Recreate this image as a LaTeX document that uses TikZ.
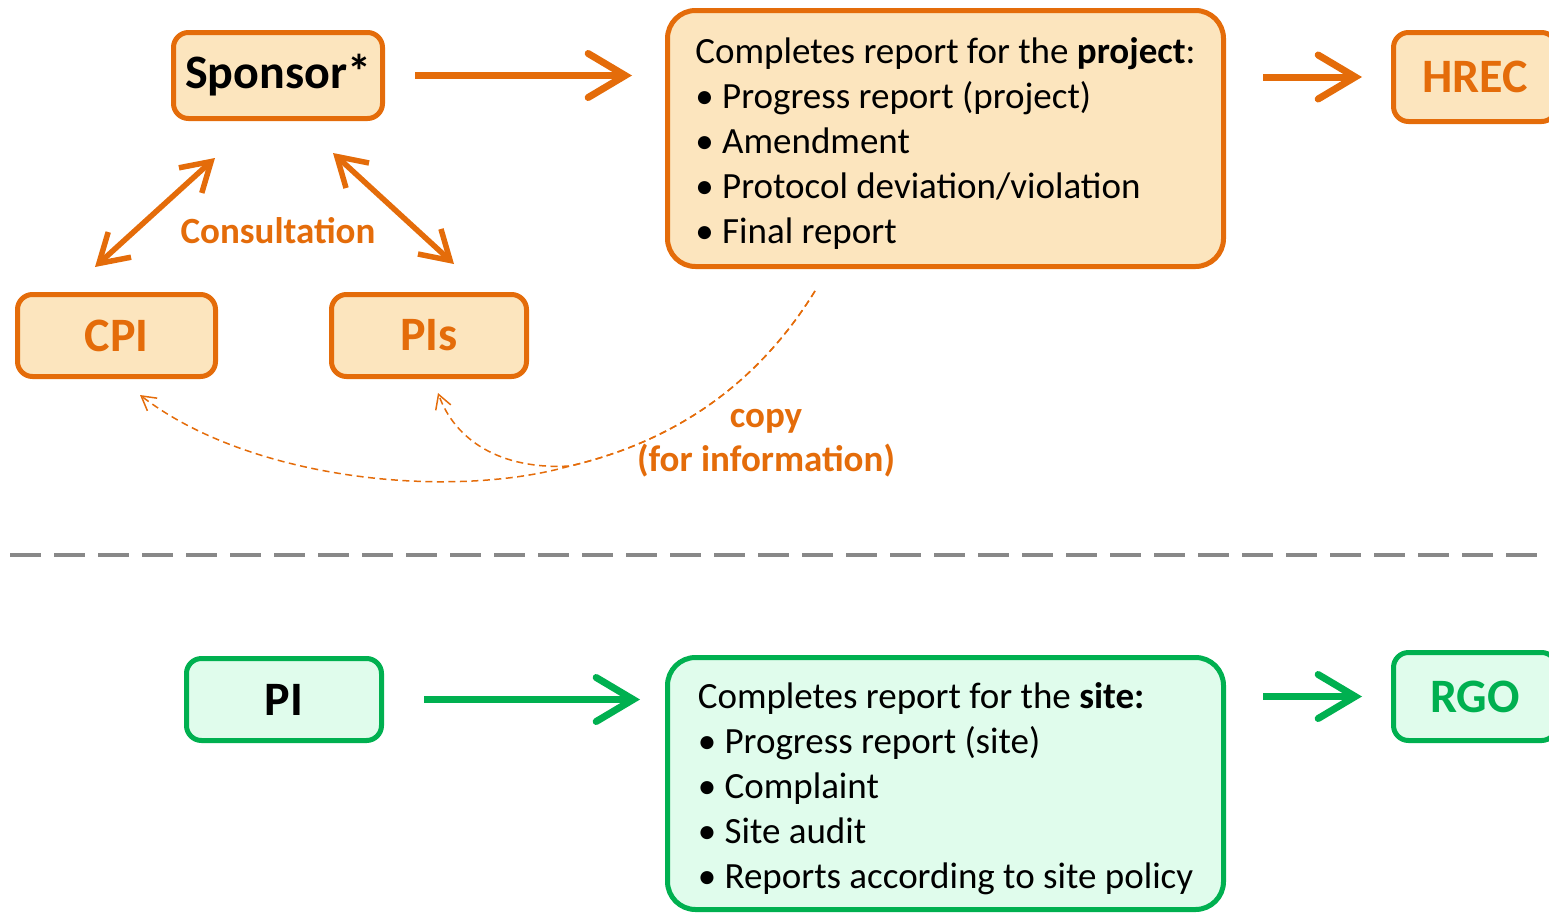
\documentclass[tikz,border=0pt]{standalone}
\usepackage{fontspec}
\setmainfont{Carlito}
\usetikzlibrary{arrows.meta}
\definecolor{org}{RGB}{228,108,10}
\definecolor{orgfill}{RGB}{252,229,190}
\definecolor{grn}{RGB}{0,176,80}
\definecolor{grnfill}{RGB}{224,252,236}
\definecolor{sepgray}{RGB}{136,136,136}
\tikzset{
  obox/.style={draw=org, fill=orgfill, line width=5pt, rounded corners=15pt, inner sep=0pt,
    font=\fontsize{48}{56}\selectfont\bfseries, text=org},
  gbox/.style={draw=grn, fill=grnfill, line width=5pt, rounded corners=15pt, inner sep=0pt,
    font=\fontsize{48}{56}\selectfont\bfseries, text=grn},
  tbox/.style={line width=5pt, rounded corners=28pt, inner xsep=0pt, inner ysep=0pt,
    minimum width=556pt, align=left,
    font=\fontsize{37}{45}\selectfont, text=black},
  bigarrow/.style={line width=7pt, -{Straight Barb[length=37pt,width=44pt,line cap=round]}},
  dblarrow/.style={line width=5.5pt, draw=org,
    {Straight Barb[length=28pt,width=34pt]}-{Straight Barb[length=28pt,width=34pt]}},
  copyarrow/.style={draw=org, line width=1.5pt, dash pattern=on 7pt off 4.5pt,
    -{Straight Barb[length=14pt,width=16pt]}},
  lbl/.style={text=org, font=\fontsize{37}{44}\selectfont\bfseries, align=center},
}
\begin{document}
\begin{tikzpicture}[x=1pt,y=-1pt]
\useasboundingbox (0,0) rectangle (1549,913);
\clip (0,0) rectangle (1549,913);

% top half
\node[obox, text=black, minimum width=209pt, minimum height=86pt] (sponsor) at (278,75.5) {Sponsor*};
\node[obox, minimum width=163pt, minimum height=89pt] (hrec) at (1475,77) {HREC};
\node[obox, minimum width=198pt, minimum height=82pt] (cpi) at (116.5,335.5) {CPI};
\node[obox, minimum width=195pt, minimum height=82pt] (pis) at (429,335.5) {PIs};
\node[tbox, draw=org, fill=orgfill, minimum height=256pt] (proj) at (945.5,138.5)
  {\rule{0pt}{36pt}Completes report for the \textbf{project}:\\
   • Progress report (project)\\
   • Amendment\\
   • Protocol deviation/violation\\
   • Final report};

\draw[bigarrow, draw=org, shorten <=30pt, shorten >=33pt] (sponsor.east) -- (sponsor.east -| proj.west);
\draw[bigarrow, draw=org, shorten <=37pt, shorten >=29pt] (proj.east |- hrec.west) -- (hrec.west);

\coordinate (cA) at (95,267);
\coordinate (cB) at (215,158);
\coordinate (cC) at (333,153);
\coordinate (cD) at (454,264);
\draw[dblarrow] (cA) -- (cB);
\draw[dblarrow] (cC) -- (cD);
\node[lbl] (consult) at (278,231) {Consultation};

\coordinate (cs) at (815,291);
\coordinate (cm) at (570,466);
\coordinate (tcpi) at (140,395);
\coordinate (tpis) at (438,393);
\draw[copyarrow] (cs) .. controls (760,380) and (680,440) .. (cm)
  .. controls (450,500) and (250,480) .. (tcpi);
\draw[copyarrow] (cs) .. controls (760,380) and (680,440) .. (cm)
  .. controls (500,470) and (455,440) .. (tpis);
\node[lbl] (copy) at (766,443) {copy\\(for information)};

% separator
\coordinate (sepL) at (10,555);
\coordinate (sepR) at (1545,555);
\draw[sepgray, line width=4pt, dash pattern=on 31pt off 13pt] (sepL) -- (sepR);

% bottom half
\node[gbox, text=black, minimum width=195pt, minimum height=82pt] (pi) at (284,699.5) {PI};
\node[gbox, minimum width=163pt, minimum height=88pt] (rgo) at (1475,696.5) {RGO};
\node[tbox, draw=grn, fill=grnfill, minimum height=252pt] (site) at (945.5,783.5)
  {\rule{0pt}{37pt}Completes report for the \textbf{site:}\\
   • Progress report (site)\\
   • Complaint\\
   • Site audit\\
   • Reports according to site policy};

\draw[bigarrow, draw=grn, shorten <=40pt, shorten >=25pt] (pi.east) -- (pi.east -| site.west);
\draw[bigarrow, draw=grn, shorten <=37pt, shorten >=29pt] (site.east |- rgo.west) -- (rgo.west);
\end{tikzpicture}
\end{document}
